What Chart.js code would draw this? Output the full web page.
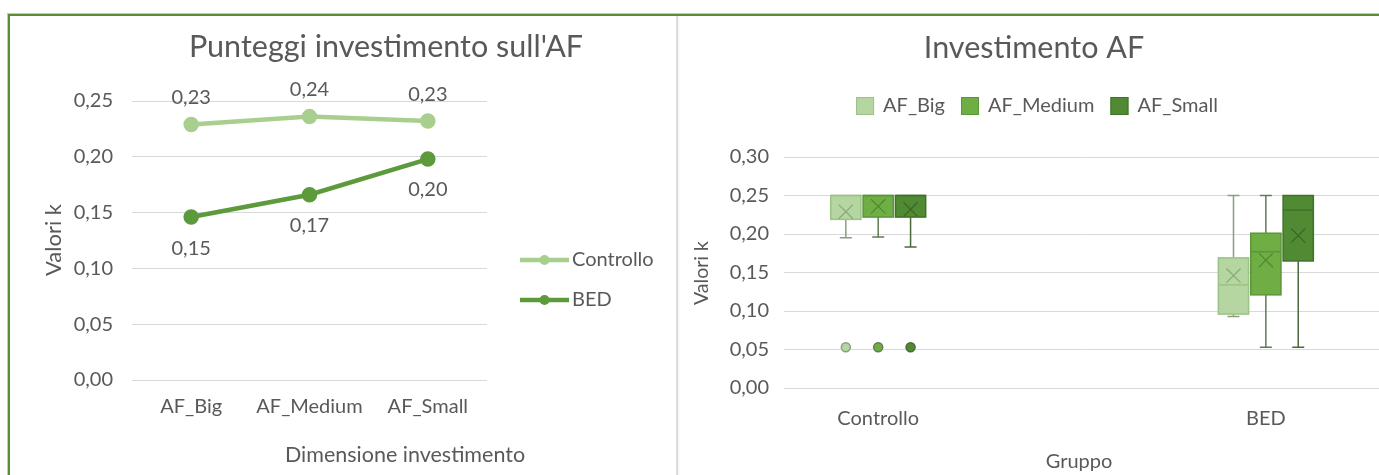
<!DOCTYPE html>
<html>
<head>
<meta charset="utf-8">
<script src="https://cdn.jsdelivr.net/npm/chart.js@4.4.1/dist/chart.umd.min.js"></script>
<style>
  html, body { margin: 0; padding: 0; background: #fff; overflow: hidden; width: 1379px; height: 475px; }
  #frame { position: absolute; left: 8px; top: 14px; width: 1400px; height: 480px;
           border-top: 2px solid #5b8c3a; border-left: 2px solid #5b8c3a; box-shadow: -1px -1px 0 #b9d2a8; }
  #divider { position: absolute; left: 676px; top: 16px; width: 2px; height: 460px; background: #dcdcdc;
             box-shadow: 1px 0 2px rgba(0,0,0,0.06); }
  canvas { position: absolute; top: 0; }
  #left { left: 0; }
  #right { left: 679px; }
</style>
</head>
<body>
<div id="frame"></div>
<div id="divider"></div>
<canvas id="left" width="676" height="475"></canvas>
<canvas id="right" width="716" height="475"></canvas>
<script>
// Investment sizes and groups
const sizes = ['AF_Big', 'AF_Medium', 'AF_Small'];
const groups = ['Controllo', 'BED'];

// Mean k values per size (also the X markers of the box plot)
const controllo = [0.229, 0.236, 0.232];
const bed = [0.146, 0.166, 0.198];

// Box plot statistics, one row per size: [Controllo, BED]
const whiskerLow  = [[0.195, 0.093], [0.196, 0.053], [0.183, 0.053]];
const quartile1   = [[0.219, 0.096], [0.222, 0.121], [0.222, 0.165]];
const medians     = [[0.250, 0.134], [0.250, 0.177], [0.250, 0.231]];
const quartile3   = [[0.250, 0.169], [0.250, 0.201], [0.250, 0.250]];
const whiskerHigh = [[0.250, 0.250], [0.250, 0.250], [0.250, 0.250]];
// Outlying point of the Controllo group, per size
const controlloOutliers = [0.053, 0.053, 0.053];

const leftTicks = [0, 0.05, 0.10, 0.15, 0.20, 0.25];
const rightTicks = [0, 0.05, 0.10, 0.15, 0.20, 0.25, 0.30];

const FONT = 'Lato, "Open Sans", sans-serif';
const TEXT = '#595959';
const GRID = '#d9d9d9';
const fmt = v => Number(v).toFixed(2).replace('.', ',');

// Free-standing captions (titles, axis titles)
const captions = {
  id: 'captions',
  afterDraw(chart, args, opts) {
    const ctx = chart.ctx;
    (opts.items || []).forEach(it => {
      ctx.save();
      ctx.fillStyle = TEXT;
      ctx.font = `${it.size}px ${FONT}`;
      ctx.textAlign = 'center';
      ctx.textBaseline = 'middle';
      ctx.translate(it.x, it.y);
      if (it.rotate) ctx.rotate(it.rotate);
      ctx.fillText(it.text, 0, 0);
      ctx.restore();
    });
  }
};

// Value labels above/below the line points
const valueLabels = {
  id: 'valueLabels',
  afterDatasetsDraw(chart, args, opts) {
    const ctx = chart.ctx;
    ctx.save();
    ctx.fillStyle = TEXT;
    ctx.font = `${opts.size}px ${FONT}`;
    ctx.textAlign = 'center';
    ctx.textBaseline = 'middle';
    chart.data.datasets.forEach((ds, i) => {
      const meta = chart.getDatasetMeta(i);
      const dy = opts.offsets[i];
      meta.data.forEach((pt, j) => ctx.fillText(fmt(ds.data[j]), pt.x, pt.y + dy));
    });
    ctx.restore();
  }
};

// Legend with line-and-marker samples
const lineLegend = {
  id: 'lineLegend',
  afterDraw(chart, args, opts) {
    const ctx = chart.ctx;
    ctx.save();
    chart.data.datasets.forEach((ds, i) => {
      const y = opts.y + i * opts.gap;
      ctx.strokeStyle = ds.borderColor;
      ctx.lineWidth = ds.borderWidth;
      ctx.beginPath();
      ctx.moveTo(opts.x, y);
      ctx.lineTo(opts.x + opts.len, y);
      ctx.stroke();
      ctx.fillStyle = ds.borderColor;
      ctx.beginPath();
      ctx.arc(opts.x + opts.len / 2, y, ds.pointRadius - 0.5, 0, Math.PI * 2);
      ctx.fill();
      ctx.fillStyle = TEXT;
      ctx.font = `${opts.size}px ${FONT}`;
      ctx.textAlign = 'left';
      ctx.textBaseline = 'middle';
      ctx.fillText(ds.label, opts.x + opts.len + 3, y);
    });
    ctx.restore();
  }
};

new Chart(document.getElementById('left'), {
  type: 'line',
  data: {
    labels: sizes,
    datasets: [
      { label: 'Controllo', data: controllo, borderColor: '#a9cf8f', backgroundColor: '#a9cf8f',
        borderWidth: 4.5, pointRadius: 5.5, pointHoverRadius: 5.5, tension: 0 },
      { label: 'BED', data: bed, borderColor: '#5d9a3c', backgroundColor: '#5d9a3c',
        borderWidth: 4.5, pointRadius: 5.5, pointHoverRadius: 5.5, tension: 0 }
    ]
  },
  options: {
    responsive: false, animation: false, events: [],
    layout: { padding: { left: 0, right: 189, top: 101, bottom: 0 } },
    plugins: {
      legend: { display: false }, tooltip: { enabled: false },
      captions: { items: [
        { text: "Punteggi investimento sull'AF", x: 386, y: 47, size: 30.5 },
        { text: 'Dimensione investimento', x: 405, y: 455, size: 21.5 },
        { text: 'Valori k', x: 54, y: 240, size: 22, rotate: -Math.PI / 2 }
      ] },
      valueLabels: { size: 20, offsets: [-27, 31] },
      lineLegend: { x: 520, y: 260, gap: 40, len: 49, size: 20 }
    },
    scales: {
      x: {
        offset: true,
        grid: { display: false, drawTicks: false }, border: { display: false },
        ticks: { color: TEXT, font: { family: FONT, size: 20 }, padding: 15, maxRotation: 0 },
        afterFit: s => { s.height = 95; }
      },
      y: {
        min: 0, max: 0.25,
        afterBuildTicks: s => { s.ticks = leftTicks.map(v => ({ value: v })); },
        grid: { color: GRID, lineWidth: 1, drawTicks: false }, border: { display: false },
        ticks: { color: TEXT, font: { family: FONT, size: 20 }, padding: 19, callback: v => fmt(v) },
        afterFit: s => { s.width = 132; }
      }
    }
  },
  plugins: [captions, valueLabels, lineLegend]
});

// Box plot colours per size
const boxFill  = ['#b5d5a1', '#6fad45', '#508a33'];
const boxEdge  = ['#9cc387', '#5b973a', '#3f7228'];
const whiskerC = ['#8c9d84', '#5f7d50', '#4a6a3b'];
const meanC    = ['#8aaa7a', '#4f8a33', '#3b6a26'];
const SLOT = 0.0835;   // spacing between sizes within a group (axis units)
const HALF = 0.039;    // half box width (axis units)

const boxes = {
  id: 'boxes',
  beforeDatasetsDraw(chart) {
    const { ctx, scales: { x, y } } = chart;
    sizes.forEach((name, s) => {
      groups.forEach((g, gi) => {
        const c = gi + (s - 1) * SLOT;
        const cx = x.getPixelForValue(c);
        const l = x.getPixelForValue(c - HALF), r = x.getPixelForValue(c + HALF);
        const yLo = y.getPixelForValue(whiskerLow[s][gi]), yHi = y.getPixelForValue(whiskerHigh[s][gi]);
        const yQ1 = y.getPixelForValue(quartile1[s][gi]), yQ3 = y.getPixelForValue(quartile3[s][gi]);
        const yMed = y.getPixelForValue(medians[s][gi]);
        ctx.save();
        ctx.strokeStyle = whiskerC[s];
        ctx.lineWidth = 1.5;
        ctx.beginPath();
        ctx.moveTo(cx, yLo); ctx.lineTo(cx, yQ1);
        ctx.moveTo(cx, yQ3); ctx.lineTo(cx, yHi);
        if (yLo - yQ1 > 0.5) { ctx.moveTo(cx - 6, yLo); ctx.lineTo(cx + 6, yLo); }
        if (yQ3 - yHi > 0.5) { ctx.moveTo(cx - 6, yHi); ctx.lineTo(cx + 6, yHi); }
        ctx.stroke();
        ctx.fillStyle = boxFill[s];
        ctx.fillRect(l, yQ3, r - l, yQ1 - yQ3);
        ctx.strokeStyle = boxEdge[s];
        ctx.lineWidth = 1.5;
        ctx.strokeRect(l, yQ3, r - l, yQ1 - yQ3);
        ctx.beginPath();
        ctx.moveTo(l, yMed); ctx.lineTo(r, yMed);
        ctx.stroke();
        ctx.restore();
      });
    });
  }
};

// Square-swatch legend centred above the plot
const boxLegend = {
  id: 'boxLegend',
  afterDraw(chart, args, opts) {
    const ctx = chart.ctx;
    ctx.save();
    ctx.font = `${opts.size}px ${FONT}`;
    const widths = sizes.map(n => ctx.measureText(n).width);
    const total = widths.reduce((a, w) => a + opts.box + opts.gap + w, 0) + opts.spacing * (sizes.length - 1);
    let xPos = opts.cx - total / 2;
    sizes.forEach((n, s) => {
      ctx.fillStyle = boxFill[s];
      ctx.fillRect(xPos, opts.y - opts.box / 2, opts.box, opts.box);
      ctx.strokeStyle = boxEdge[s];
      ctx.lineWidth = 1;
      ctx.strokeRect(xPos + 0.5, opts.y - opts.box / 2 + 0.5, opts.box - 1, opts.box - 1);
      ctx.fillStyle = TEXT;
      ctx.textAlign = 'left';
      ctx.textBaseline = 'middle';
      ctx.fillText(n, xPos + opts.box + opts.gap, opts.y);
      xPos += opts.box + opts.gap + widths[s] + opts.spacing;
    });
    ctx.restore();
  }
};

const meanSets = sizes.map((name, s) => ({
  label: name,
  data: groups.map((g, gi) => ({ x: gi + (s - 1) * SLOT, y: [controllo, bed][gi][s] })),
  pointStyle: 'crossRot', pointRadius: 10, pointHoverRadius: 10,
  borderColor: meanC[s], backgroundColor: meanC[s], pointBorderWidth: 1.3
}));
const outlierSets = sizes.map((name, s) => ({
  label: name,
  data: [{ x: 0 + (s - 1) * SLOT, y: controlloOutliers[s] }],
  pointStyle: 'circle', pointRadius: 4.5, pointHoverRadius: 4.5,
  backgroundColor: boxFill[s], borderColor: whiskerC[s], pointBorderWidth: 1.5
}));

new Chart(document.getElementById('right'), {
  type: 'scatter',
  data: { datasets: [...meanSets, ...outlierSets] },
  options: {
    responsive: false, animation: false, events: [],
    layout: { padding: { left: 0, right: 0, top: 157, bottom: 0 } },
    plugins: {
      legend: { display: false }, tooltip: { enabled: false },
      captions: { items: [
        { text: 'Investimento AF', x: 355, y: 48, size: 30.5 },
        { text: 'Gruppo', x: 400, y: 462, size: 20 },
        { text: 'Valori k', x: 23, y: 273, size: 19.5, rotate: -Math.PI / 2 }
      ] },
      boxLegend: { cx: 358, y: 106, box: 18, gap: 9, spacing: 16, size: 20 }
    },
    scales: {
      x: {
        type: 'linear', min: -0.243, max: 1.304,
        afterBuildTicks: s => { s.ticks = groups.map((g, i) => ({ value: i })); },
        grid: { display: false, drawTicks: false }, border: { display: false },
        ticks: { color: TEXT, font: { family: FONT, size: 20 }, padding: 19, autoSkip: false, maxRotation: 0,
                 callback: v => groups[v] ?? '' },
        afterFit: s => { s.height = 87; }
      },
      y: {
        min: 0, max: 0.30,
        afterBuildTicks: s => { s.ticks = rightTicks.map(v => ({ value: v })); },
        grid: { color: GRID, lineWidth: 1, drawTicks: false }, border: { display: false },
        ticks: { color: TEXT, font: { family: FONT, size: 20 }, padding: 15, callback: v => fmt(v) },
        afterFit: s => { s.width = 105; }
      }
    }
  },
  plugins: [captions, boxes, boxLegend]
});
</script>
</body>
</html>
